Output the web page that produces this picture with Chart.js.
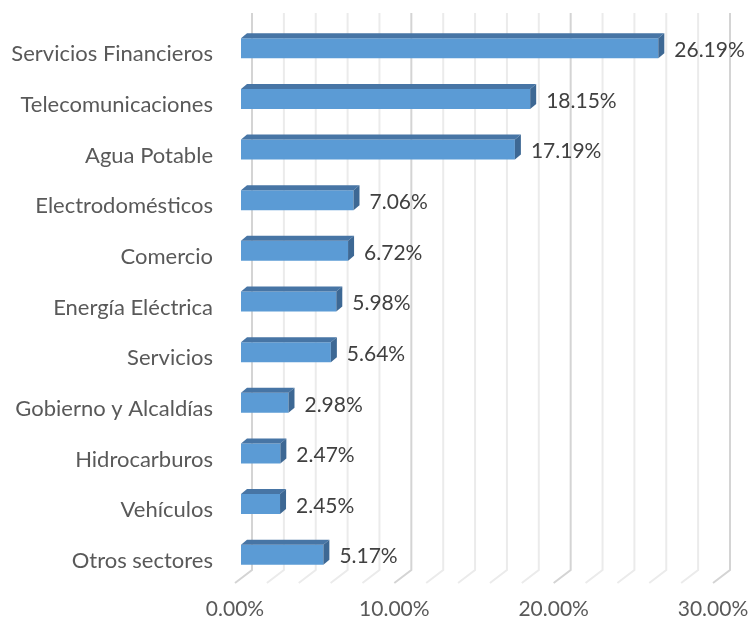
<!DOCTYPE html>
<html>
<head>
<meta charset="utf-8">
<script src="https://cdn.jsdelivr.net/npm/chart.js@4.4.1/dist/chart.umd.min.js"></script>
<style>
  html, body { margin: 0; padding: 0; background: #ffffff; }
  #wrap { width: 752px; height: 622px; position: relative; }
</style>
</head>
<body>
<div id="wrap"><canvas id="c" width="752" height="622"></canvas></div>
<script>
const categories = [
  "Servicios Financieros",
  "Telecomunicaciones",
  "Agua Potable",
  "Electrodomésticos",
  "Comercio",
  "Energía Eléctrica",
  "Servicios",
  "Gobierno y Alcaldías",
  "Hidrocarburos",
  "Vehículos",
  "Otros sectores"
];
const shares = [26.19, 18.15, 17.19, 7.06, 6.72, 5.98, 5.64, 2.98, 2.47, 2.45, 5.17];
const axisMin = 0;
const axisMax = 30;
const majorStep = 10;
const minorStep = 2;

const FONT = "Lato, 'Open Sans', sans-serif";
const DX = 6, DY = -5;

const threeD = {
  id: 'threeD',
  beforeDatasetsDraw(chart) {
    const ctx = chart.ctx;
    const xs = chart.scales.x;
    const area = chart.chartArea;
    ctx.save();
    for (let v = axisMin; v <= axisMax + 1e-9; v += minorStep) {
      const major = Math.abs(v % majorStep) < 1e-9;
      const xb = xs.getPixelForValue(v) + 11;
      ctx.beginPath();
      ctx.moveTo(xb, area.top - 10);
      ctx.lineTo(xb, area.bottom - 10);
      ctx.lineTo(xb - 17, area.bottom + 3);
      ctx.strokeStyle = major ? '#d4d4d4' : '#ebebeb';
      ctx.lineWidth = 2;
      ctx.stroke();
    }
    ctx.restore();
  },
  afterDatasetsDraw(chart) {
    const ctx = chart.ctx;
    const meta = chart.getDatasetMeta(0);
    ctx.save();
    meta.data.forEach((bar, i) => {
      const p = bar.getProps(['x', 'y', 'base', 'height'], true);
      const top = p.y - p.height / 2;
      const bot = p.y + p.height / 2;
      ctx.beginPath();
      ctx.moveTo(p.base, top);
      ctx.lineTo(p.x, top);
      ctx.lineTo(p.x + DX, top + DY);
      ctx.lineTo(p.base + DX, top + DY);
      ctx.closePath();
      ctx.fillStyle = '#4775a5';
      ctx.fill();
      ctx.beginPath();
      ctx.moveTo(p.x, top);
      ctx.lineTo(p.x + DX, top + DY);
      ctx.lineTo(p.x + DX, bot + DY);
      ctx.lineTo(p.x, bot);
      ctx.closePath();
      ctx.fillStyle = '#3d6894';
      ctx.fill();
      ctx.fillStyle = '#404040';
      ctx.font = '21px ' + FONT;
      ctx.textAlign = 'left';
      ctx.textBaseline = 'middle';
      ctx.fillText(shares[i].toFixed(2) + '%', p.x + 16, p.y + 2);
    });
    ctx.restore();
  }
};

new Chart(document.getElementById('c'), {
  type: 'bar',
  data: {
    labels: categories,
    datasets: [{
      data: shares,
      backgroundColor: '#5b9bd5',
      borderWidth: 0,
      categoryPercentage: 1.0,
      barPercentage: 0.395
    }]
  },
  options: {
    indexAxis: 'y',
    responsive: false,
    animation: false,
    events: [],
    layout: { padding: { left: 0, right: 33, top: 23, bottom: 0 } },
    plugins: { legend: { display: false }, tooltip: { enabled: false } },
    scales: {
      x: {
        type: 'linear',
        min: axisMin,
        max: axisMax,
        ticks: {
          stepSize: majorStep,
          labelOffset: -6,
          padding: 17,
          color: '#595959',
          font: { family: FONT, size: 21 },
          callback: (v) => Number(v).toFixed(2) + '%'
        },
        grid: { display: false, drawTicks: false },
        border: { display: false },
        afterFit(scale) { scale.height = 42; scale.paddingLeft = 0; scale.paddingRight = 0; }
      },
      y: {
        type: 'category',
        ticks: {
          padding: 28,
          labelOffset: 6,
          color: '#595959',
          font: { family: FONT, size: 22 }
        },
        grid: { display: false, drawTicks: false },
        border: { display: false },
        afterFit(scale) { scale.width = 241; scale.paddingTop = 0; scale.paddingBottom = 0; }
      }
    }
  },
  plugins: [threeD]
});
</script>
</body>
</html>
